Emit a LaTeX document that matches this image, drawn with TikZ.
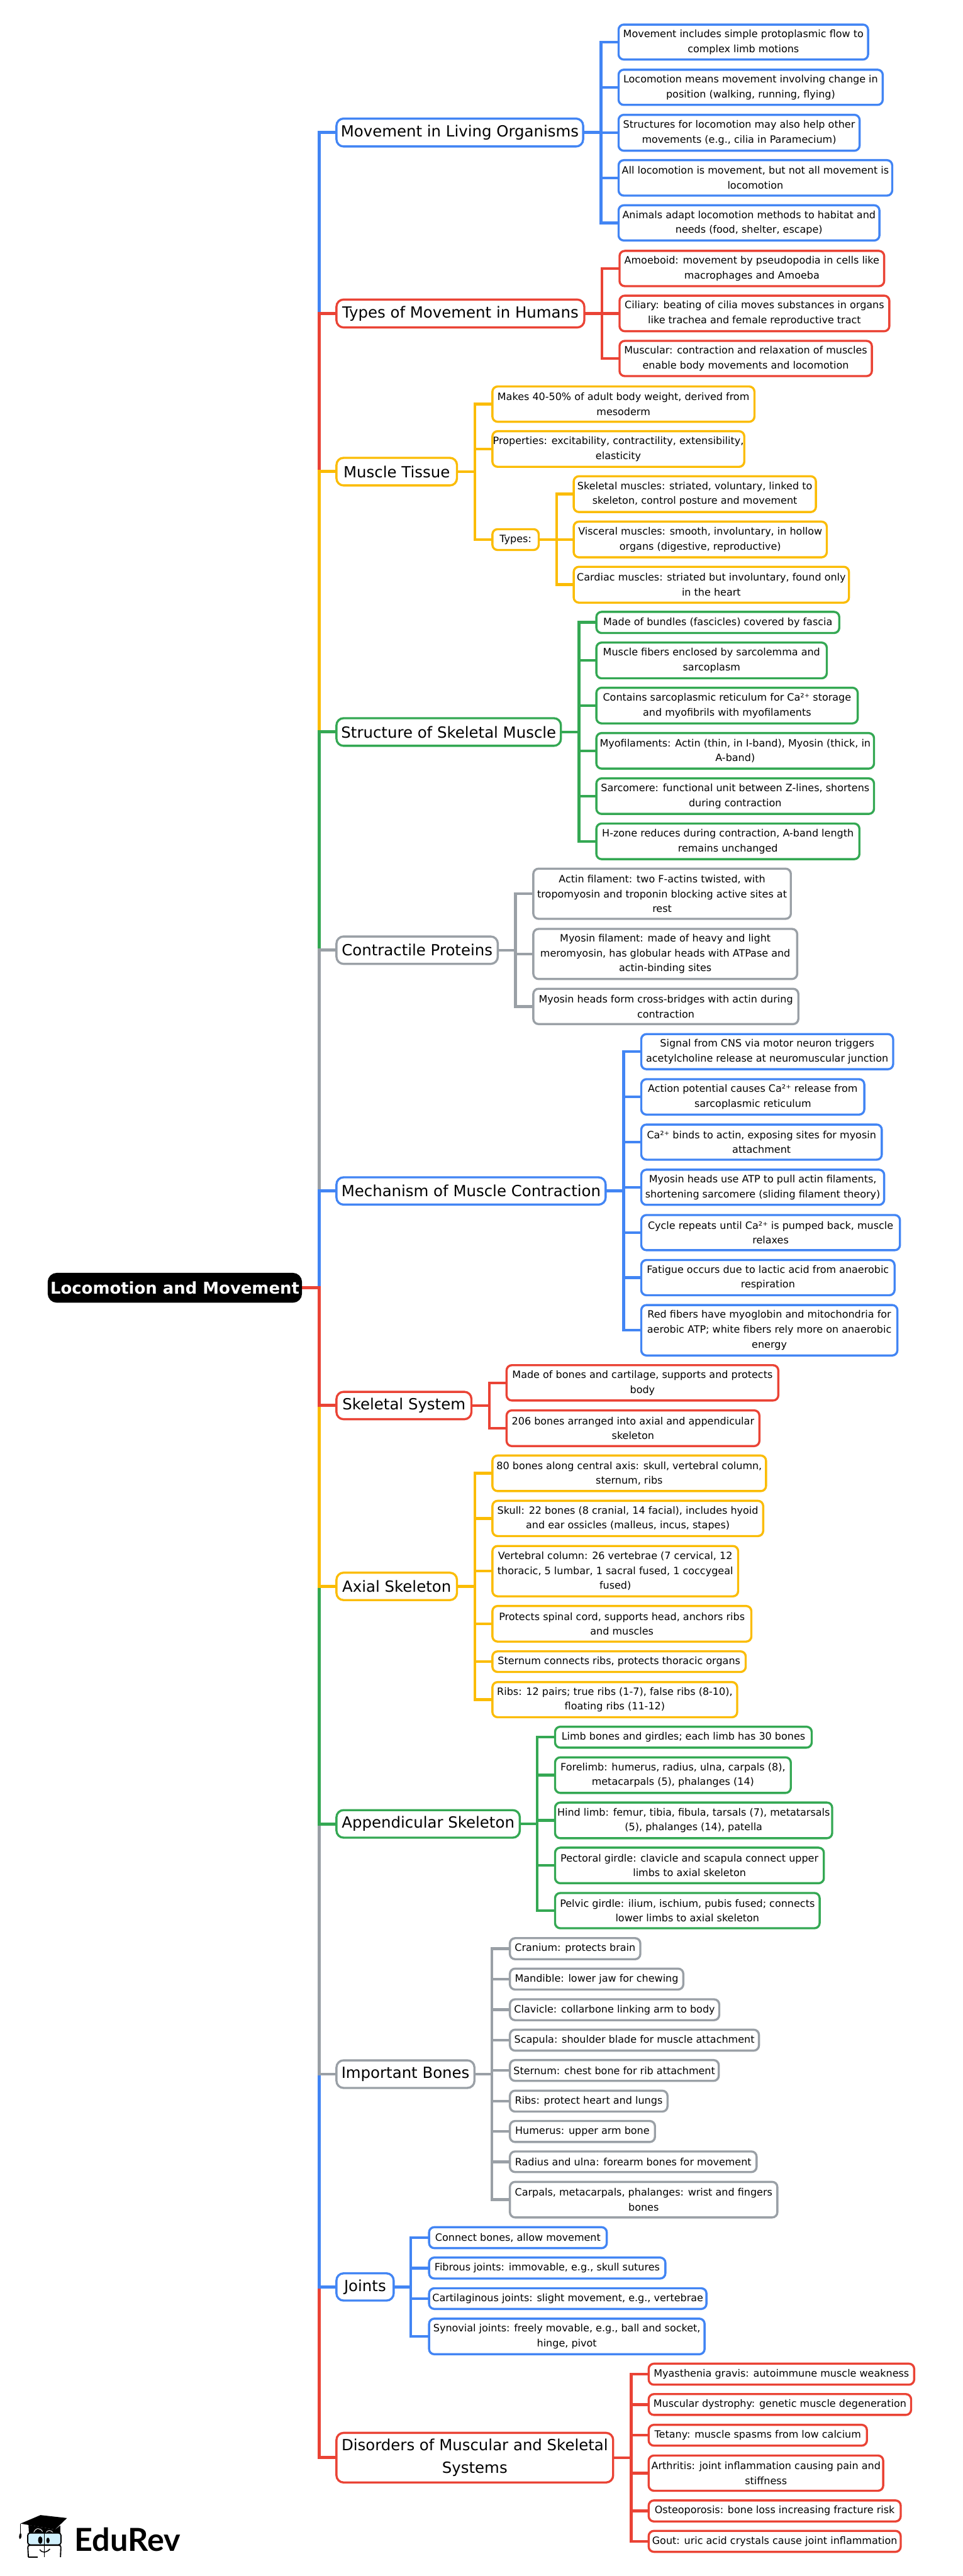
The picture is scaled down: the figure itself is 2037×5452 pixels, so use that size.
\documentclass[tikz,border=0pt]{standalone}
\usepackage{fontspec}
\setmainfont{DejaVu Sans}
\newfontfamily\logofont{Lato}
\definecolor{mblue}{HTML}{4285F4}
\definecolor{mred}{HTML}{EA4335}
\definecolor{myellow}{HTML}{FBBC04}
\definecolor{mgreen}{HTML}{34A853}
\definecolor{mgray}{HTML}{9AA0A6}
\pgfdeclarelayer{wires}
\pgfsetlayers{wires,main}
\tikzset{
  basebox/.style={rectangle,fill=white,line width=4.5pt,inner sep=0pt,outer sep=0pt,align=center},
  leaf/.style={basebox,rounded corners=11pt,font=\fontsize{21.3}{31.5}\selectfont},
  branch/.style={basebox,rounded corners=15pt,font=\fontsize{32.5}{47}\selectfont},
  rootbox/.style={basebox,rounded corners=17pt,draw=black,fill=black,text=white,font=\fontsize{34.5}{42}\selectfont\bfseries},
  wire/.style={line width=6pt,miter limit=10},
  trunk/.style={line width=6.5pt,miter limit=10},
  logotext/.style={inner sep=0pt,outer sep=0pt,anchor=base west,font=\fontsize{67}{70}\selectfont\logofont\bfseries}
}
% name, style, left, right, top, bottom, text (edges are stroke centres)
\newcommand\bx[7]{\node[#2,minimum width={(#4-#3)*1pt},minimum height={(#6-#5)*1pt}] (#1) at ({(#3+#4)/2},{(#5+#6)/2}) {#7};}
% colour, from, bus, to
\newcommand\elbow[4]{\draw[wire,draw=#1] (#2.east) -- (#2.east -| #3) |- (#4.west);}
\newcommand\spine[2]{\draw[trunk,draw=#1] (root.east) -- (root.east -| spinebus) |- (#2.west);}
\begin{document}
\begin{tikzpicture}[x=1pt,y=-1pt]
\useasboundingbox (0,0) rectangle (2037,5452);
% buses
\coordinate (spinebus) at (675,0);
\coordinate (busM) at (1272,0);
\coordinate (busT) at (1273.7,0);
\coordinate (busU) at (1005,0);
\coordinate (busV) at (1178,0);
\coordinate (busS) at (1225,0);
\coordinate (busC) at (1090.5,0);
\coordinate (busE) at (1319.6,0);
\coordinate (busK) at (1035.7,0);
\coordinate (busA) at (1005,0);
\coordinate (busP) at (1136.5,0);
\coordinate (busI) at (1041,0);
\coordinate (busJ) at (869.4,0);
\coordinate (busD) at (1335.6,0);
% root
\bx{root}{rootbox}{103.2}{636.8}{2696.2}{2754.8}{Locomotion and Movement}
% branches
\bx{bM}{branch,draw=mblue}{712}{1234}{251}{310}{Movement in Living Organisms}
\bx{bT}{branch,draw=mred}{712}{1236.5}{634}{693}{Types of Movement in Humans}
\bx{bU}{branch,draw=myellow}{712}{967}{969}{1027.4}{Muscle Tissue}
\bx{bS}{branch,draw=mgreen}{712}{1187}{1520}{1578.5}{Structure of Skeletal Muscle}
\bx{bC}{branch,draw=mgray}{712}{1053.4}{1982}{2040}{Contractile Proteins}
\bx{bE}{branch,draw=mblue}{712}{1281.6}{2491.7}{2549.5}{Mechanism of Muscle Contraction}
\bx{bK}{branch,draw=mred}{712}{997.6}{2945.7}{3003.7}{Skeletal System}
\bx{bA}{branch,draw=myellow}{712}{967}{3328.5}{3386.5}{Axial Skeleton}
\bx{bP}{branch,draw=mgreen}{712}{1100}{3831}{3889.3}{Appendicular Skeleton}
\bx{bI}{branch,draw=mgray}{712}{1004}{4360.6}{4419}{Important Bones}
\bx{bJ}{branch,draw=mblue}{712}{833}{4811.4}{4869}{Joints}
\bx{bD}{branch,draw=mred}{712}{1297.5}{5149}{5254}{Disorders of Muscular and Skeletal\\Systems}
% movement
\bx{m1}{leaf,draw=mblue}{1309}{1837}{52}{126}{Movement includes simple protoplasmic flow to\\complex limb motions}
\bx{m2}{leaf,draw=mblue}{1309}{1868}{147.5}{222}{Locomotion means movement involving change in\\position (walking, running, flying)}
\bx{m3}{leaf,draw=mblue}{1309}{1819}{243}{319}{Structures for locomotion may also help other\\movements (e.g., cilia in Paramecium)}
\bx{m4}{leaf,draw=mblue}{1309}{1888}{339}{414}{All locomotion is movement, but not all movement is\\locomotion}
\bx{m5}{leaf,draw=mblue}{1309}{1861}{434.5}{509}{Animals adapt locomotion methods to habitat and\\needs (food, shelter, escape)}
% types of movement
\bx{t1}{leaf,draw=mred}{1311}{1871}{531}{605.6}{Amoeboid: movement by pseudopodia in cells like\\macrophages and Amoeba}
\bx{t2}{leaf,draw=mred}{1311}{1882}{625.7}{701}{Ciliary: beating of cilia moves substances in organs\\like trachea and female reproductive tract}
\bx{t3}{leaf,draw=mred}{1311}{1845}{721.5}{796}{Muscular: contraction and relaxation of muscles\\enable body movements and locomotion}
% muscle tissue
\bx{u1}{leaf,draw=myellow}{1042}{1596.5}{818}{892.6}{Makes 40-50\% of adult body weight, derived from\\mesoderm}
\bx{u2}{leaf,draw=myellow}{1042}{1575}{912.6}{988}{Properties: excitability, contractility, extensibility,\\elasticity}
\bx{u3}{leaf,draw=myellow}{1042}{1140}{1120}{1164}{Types:}
\bx{v1}{leaf,draw=myellow}{1214}{1726.6}{1008}{1083.7}{Skeletal muscles: striated, voluntary, linked to\\skeleton, control posture and movement}
\bx{v2}{leaf,draw=myellow}{1214}{1749.6}{1104}{1179.5}{Visceral muscles: smooth, involuntary, in hollow\\organs (digestive, reproductive)}
\bx{v3}{leaf,draw=myellow}{1214}{1796.5}{1199.6}{1275.4}{Cardiac muscles: striated but involuntary, found only\\in the heart}
% structure
\bx{s1}{leaf,draw=mgreen}{1262}{1776}{1295}{1339.7}{Made of bundles (fascicles) covered by fascia}
\bx{s2}{leaf,draw=mgreen}{1262}{1749.6}{1360}{1435.6}{Muscle fibers enclosed by sarcolemma and\\sarcoplasm}
\bx{s3}{leaf,draw=mgreen}{1262}{1815}{1455.6}{1531}{Contains sarcoplasmic reticulum for Ca²⁺ storage\\and myofibrils with myofilaments}
\bx{s4}{leaf,draw=mgreen}{1262}{1849.5}{1551.5}{1626.7}{Myofilaments: Actin (thin, in I-band), Myosin (thick, in\\A-band)}
\bx{s5}{leaf,draw=mgreen}{1262}{1849.5}{1647.4}{1722.6}{Sarcomere: functional unit between Z-lines, shortens\\during contraction}
\bx{s6}{leaf,draw=mgreen}{1262}{1818.6}{1743}{1818.4}{H-zone reduces during contraction, A-band length\\remains unchanged}
% contractile
\bx{c1}{leaf,draw=mgray}{1128.6}{1673.5}{1838.5}{1944.6}{Actin filament: two F-actins twisted, with\\tropomyosin and troponin blocking active sites at\\rest}
\bx{c2}{leaf,draw=mgray}{1128.6}{1687}{1966}{2072}{Myosin filament: made of heavy and light\\meromyosin, has globular heads with ATPase and\\actin-binding sites}
\bx{c3}{leaf,draw=mgray}{1128.6}{1689.4}{2092.7}{2167.4}{Myosin heads form cross-bridges with actin during\\contraction}
% mechanism
\bx{e1}{leaf,draw=mblue}{1357}{1890}{2188.6}{2263}{Signal from CNS via motor neuron triggers\\acetylcholine release at neuromuscular junction}
\bx{e2}{leaf,draw=mblue}{1357}{1829}{2284}{2359}{Action potential causes Ca²⁺ release from\\sarcoplasmic reticulum}
\bx{e3}{leaf,draw=mblue}{1357}{1866}{2380}{2454.4}{Ca²⁺ binds to actin, exposing sites for myosin\\attachment}
\bx{e4}{leaf,draw=mblue}{1357}{1871}{2475.6}{2550}{Myosin heads use ATP to pull actin filaments,\\shortening sarcomere (sliding filament theory)}
\bx{e5}{leaf,draw=mblue}{1357}{1904.4}{2571.5}{2646}{Cycle repeats until Ca²⁺ is pumped back, muscle\\relaxes}
\bx{e6}{leaf,draw=mblue}{1357}{1893}{2666.7}{2741.3}{Fatigue occurs due to lactic acid from anaerobic\\respiration}
\bx{e7}{leaf,draw=mblue}{1357}{1899}{2762}{2868.8}{Red fibers have myoglobin and mitochondria for\\aerobic ATP; white fibers rely more on anaerobic\\energy}
% skeletal system
\bx{k1}{leaf,draw=mred}{1072}{1647}{2889.4}{2964}{Made of bones and cartilage, supports and protects\\body}
\bx{k2}{leaf,draw=mred}{1072}{1607}{2985}{3060.5}{206 bones arranged into axial and appendicular\\skeleton}
% axial
\bx{a1}{leaf,draw=myellow}{1042}{1621}{3080.6}{3155.8}{80 bones along central axis: skull, vertebral column,\\sternum, ribs}
\bx{a2}{leaf,draw=myellow}{1042}{1615}{3176.4}{3251}{Skull: 22 bones (8 cranial, 14 facial), includes hyoid\\and ear ossicles (malleus, incus, stapes)}
\bx{a3}{leaf,draw=myellow}{1042}{1562}{3272}{3378.5}{Vertebral column: 26 vertebrae (7 cervical, 12\\thoracic, 5 lumbar, 1 sacral fused, 1 coccygeal\\fused)}
\bx{a4}{leaf,draw=myellow}{1042}{1590}{3399}{3474.3}{Protects spinal cord, supports head, anchors ribs\\and muscles}
\bx{a5}{leaf,draw=myellow}{1042}{1578}{3495}{3538.6}{Sternum connects ribs, protects thoracic organs}
\bx{a6}{leaf,draw=myellow}{1042}{1560}{3560}{3634.4}{Ribs: 12 pairs; true ribs (1-7), false ribs (8-10),\\floating ribs (11-12)}
% appendicular
\bx{p1}{leaf,draw=mgreen}{1174.6}{1717.7}{3654.5}{3698.7}{Limb bones and girdles; each limb has 30 bones}
\bx{p2}{leaf,draw=mgreen}{1174.6}{1673.5}{3719.4}{3794.6}{Forelimb: humerus, radius, ulna, carpals (8),\\metacarpals (5), phalanges (14)}
\bx{p3}{leaf,draw=mgreen}{1174.6}{1761}{3815}{3890.4}{Hind limb: femur, tibia, fibula, tarsals (7), metatarsals\\(5), phalanges (14), patella}
\bx{p4}{leaf,draw=mgreen}{1174.6}{1743.4}{3910.5}{3985.7}{Pectoral girdle: clavicle and scapula connect upper\\limbs to axial skeleton}
\bx{p5}{leaf,draw=mgreen}{1174.6}{1734.5}{4006.4}{4081}{Pelvic girdle: ilium, ischium, pubis fused; connects\\lower limbs to axial skeleton}
% important bones
\bx{i1}{leaf,draw=mgray}{1079}{1355}{4102}{4146.5}{Cranium: protects brain}
\bx{i2}{leaf,draw=mgray}{1079}{1446}{4166.5}{4210.7}{Mandible: lower jaw for chewing}
\bx{i3}{leaf,draw=mgray}{1079}{1522}{4231.4}{4275.6}{Clavicle: collarbone linking arm to body}
\bx{i4}{leaf,draw=mgray}{1079}{1606}{4295.7}{4340}{Scapula: shoulder blade for muscle attachment}
\bx{i5}{leaf,draw=mgray}{1079}{1521}{4360}{4404}{Sternum: chest bone for rib attachment}
\bx{i6}{leaf,draw=mgray}{1079}{1412.5}{4424.8}{4469}{Ribs: protect heart and lungs}
\bx{i7}{leaf,draw=mgray}{1079}{1386}{4489}{4533.4}{Humerus: upper arm bone}
\bx{i8}{leaf,draw=mgray}{1079}{1601}{4553.4}{4597}{Radius and ulna: forearm bones for movement}
\bx{i9}{leaf,draw=mgray}{1079}{1645}{4617.8}{4693}{Carpals, metacarpals, phalanges: wrist and fingers\\bones}
% joints
\bx{j1}{leaf,draw=mblue}{908}{1284}{4713.7}{4758}{Connect bones, allow movement}
\bx{j2}{leaf,draw=mblue}{908}{1408}{4778}{4822.3}{Fibrous joints: immovable, e.g., skull sutures}
\bx{j3}{leaf,draw=mblue}{908}{1495}{4843}{4886.7}{Cartilaginous joints: slight movement, e.g., vertebrae}
\bx{j4}{leaf,draw=mblue}{908}{1491}{4907.3}{4982.6}{Synovial joints: freely movable, e.g., ball and socket,\\hinge, pivot}
% disorders
\bx{d1}{leaf,draw=mred}{1372.7}{1934.5}{5002.6}{5047}{Myasthenia gravis: autoimmune muscle weakness}
\bx{d2}{leaf,draw=mred}{1372.7}{1928}{5067}{5111}{Muscular dystrophy: genetic muscle degeneration}
\bx{d3}{leaf,draw=mred}{1372.7}{1834.5}{5132}{5176}{Tetany: muscle spasms from low calcium}
\bx{d4}{leaf,draw=mred}{1372.7}{1869}{5197}{5271.5}{Arthritis: joint inflammation causing pain and\\stiffness}
\bx{d5}{leaf,draw=mred}{1372.7}{1906}{5292}{5336.5}{Osteoporosis: bone loss increasing fracture risk}
\bx{d6}{leaf,draw=mred}{1372.7}{1906}{5356.5}{5400.8}{Gout: uric acid crystals cause joint inflammation}
% connectors
\begin{pgfonlayer}{wires}
\fill[white] (0,0) rectangle (2037,5452);
\spine{mblue}{bM}\spine{mred}{bT}\spine{myellow}{bU}\spine{mgreen}{bS}\spine{mgray}{bC}\spine{mblue}{bE}
\spine{mred}{bD}\spine{mblue}{bJ}\spine{mgray}{bI}\spine{mgreen}{bP}\spine{myellow}{bA}\spine{mred}{bK}
\foreach \n in {m1,m2,m3,m4,m5}{\elbow{mblue}{bM}{busM}{\n}}
\foreach \n in {t1,t2,t3}{\elbow{mred}{bT}{busT}{\n}}
\foreach \n in {u1,u2,u3}{\elbow{myellow}{bU}{busU}{\n}}
\foreach \n in {v1,v2,v3}{\elbow{myellow}{u3}{busV}{\n}}
\foreach \n in {s1,s2,s3,s4,s5,s6}{\elbow{mgreen}{bS}{busS}{\n}}
\foreach \n in {c1,c2,c3}{\elbow{mgray}{bC}{busC}{\n}}
\foreach \n in {e1,e2,e3,e4,e5,e6,e7}{\elbow{mblue}{bE}{busE}{\n}}
\foreach \n in {k1,k2}{\elbow{mred}{bK}{busK}{\n}}
\foreach \n in {a1,a2,a3,a4,a5,a6}{\elbow{myellow}{bA}{busA}{\n}}
\foreach \n in {p1,p2,p3,p4,p5}{\elbow{mgreen}{bP}{busP}{\n}}
\foreach \n in {i1,i2,i3,i4,i5,i6,i7,i8,i9}{\elbow{mgray}{bI}{busI}{\n}}
\foreach \n in {j1,j2,j3,j4}{\elbow{mblue}{bJ}{busJ}{\n}}
\foreach \n in {d1,d2,d3,d4,d5,d6}{\elbow{mred}{bD}{busD}{\n}}
\end{pgfonlayer}
% logo
\fill[black] (85.7,5323) -- (141.8,5329.3) -- (116.3,5353.7) -- (43.4,5341) -- cycle;
\draw[black,line width=1.5pt] (43.4,5341) -- (43.4,5362);
\fill[black] (43.4,5360) .. controls (40,5366) and (39,5370) .. (42.3,5374) .. controls (46,5370) and (47,5366) .. (43.4,5360) -- cycle;
\fill[black] (60.2,5343.7) -- (116.3,5353.7) -- (127.5,5345.3) -- (127.5,5362) -- (61.2,5362) -- cycle;
\draw[white,line width=1.2pt] (71,5361) .. controls (75,5349) and (85,5349) .. (90,5358);
\draw[white,line width=1.2pt] (97,5361) .. controls (100,5354) and (108,5354) .. (112,5360);
\draw[black,fill=cyan!18,line width=2.5pt,rounded corners=5pt] (58.7,5361) rectangle (129,5386);
\draw[black,line width=2.5pt,rounded corners=4pt] (60,5412) -- (58.7,5387) -- (129,5387) -- (128,5412);
\draw[black,line width=2.5pt] (60,5412) -- (80,5412);
\draw[black,line width=2.5pt] (93.8,5358) -- (93.8,5412);
\fill[black] (85.2,5376) ellipse [x radius=4.5,y radius=8];
\fill[black] (101.5,5376.7) ellipse [x radius=3.5,y radius=6];
\draw[black,line width=2pt] (84.2,5396) .. controls (90,5404) and (98,5403) .. (105.6,5394.7);
\node[logotext] (logo) at (158,5400) {EduRev};
\end{tikzpicture}
\end{document}
